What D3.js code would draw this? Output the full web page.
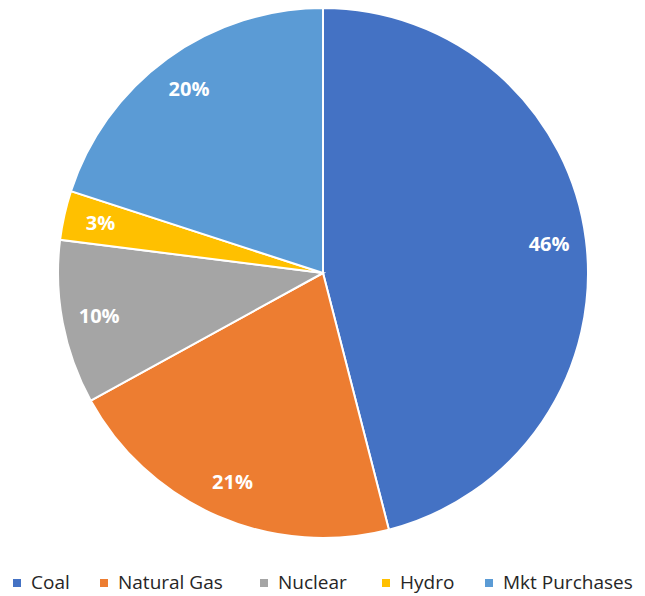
<!DOCTYPE html>
<html>
<head>
<meta charset="utf-8">
<script src="https://cdn.jsdelivr.net/npm/d3@7"></script>
<style>
  body { margin: 0; background: #fff; }
  text { font-family: "Open Sans", "Noto Sans", sans-serif; }
</style>
</head>
<body>
<svg id="chart" width="645" height="596"></svg>
<script>
// data
const sources = ["Coal", "Natural Gas", "Nuclear", "Hydro", "Mkt Purchases"];
const shares = [46, 21, 10, 3, 20];
const colors = ["#4472C4", "#ED7D31", "#A5A5A5", "#FFC000", "#5B9BD5"];

const svg = d3.select("#chart");
const cx = 323, cy = 273, radius = 265;

const data = sources.map((s, i) => ({name: s, value: shares[i], color: colors[i]}));

const pie = d3.pie().value(d => d.value).sort(null);
const arc = d3.arc().innerRadius(0).outerRadius(radius);
const labelArc = d3.arc().innerRadius(radius * 0.86).outerRadius(radius * 0.86);

const g = svg.append("g").attr("transform", `translate(${cx},${cy})`);

g.selectAll("path")
  .data(pie(data))
  .join("path")
  .attr("d", arc)
  .attr("fill", d => d.data.color)
  .attr("stroke", "#fff")
  .attr("stroke-width", 2);

g.selectAll("text.lbl")
  .data(pie(data))
  .join("text")
  .attr("class", "lbl")
  .attr("transform", d => `translate(${labelArc.centroid(d)})`)
  .attr("text-anchor", "middle")
  .attr("dy", "0.35em")
  .attr("font-size", 20)
  .attr("font-weight", "bold")
  .attr("fill", "#fff")
  .text(d => d.data.value + "%");

// legend
const legend = svg.append("g").attr("transform", "translate(0,582)");
const starts = [13, 100, 260, 382, 485];
const item = legend.selectAll("g")
  .data(data)
  .join("g")
  .attr("transform", (d, i) => `translate(${starts[i]},0)`);
item.append("rect")
  .attr("x", 0).attr("y", -3)
  .attr("width", 8).attr("height", 8)
  .attr("fill", d => d.color);
item.append("text")
  .attr("x", 18)
  .attr("dy", "0.35em")
  .attr("font-size", 19)
  .attr("fill", "#262626")
  .text(d => d.name);
</script>
</body>
</html>
